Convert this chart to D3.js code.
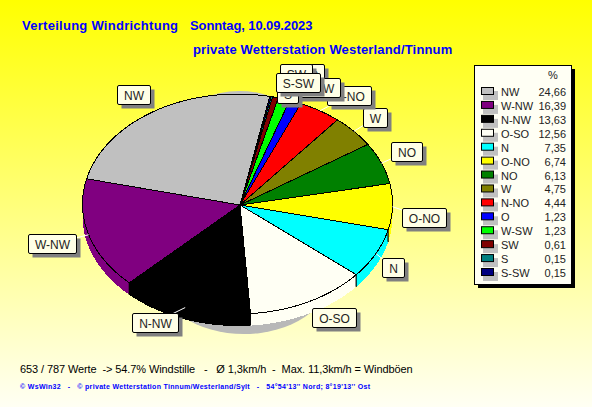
<!DOCTYPE html>
<html><head><meta charset="utf-8">
<script src="https://cdn.jsdelivr.net/npm/d3@7/dist/d3.min.js"></script>
<style>html,body{margin:0;padding:0;overflow:hidden}svg{display:block}text{white-space:pre;font-family:"Liberation Sans",Arial,sans-serif}</style>
</head><body><svg id="c" width="592" height="407"></svg>
<script>
const directions=["NW","W-NW","N-NW","O-SO","N","O-NO","NO","W","N-NO","O","W-SW","SW","S","S-SW"];
const percent=[24.66,16.39,13.63,12.56,7.35,6.74,6.13,4.75,4.44,1.23,1.23,0.61,0.15,0.15];
const percentLabels=["24,66","16,39","13,63","12,56","7,35","6,74","6,13","4,75","4,44","1,23","1,23","0,61","0,15","0,15"];
const colors=["#c0c0c0","#800080","#000000","#fffff4","#00ffff","#ffff00","#008000","#808000","#ff0000","#0000ff","#00ff00","#800000","#008080","#000080"];
const labelDx=[-21,-37,-31,24.5,16.6,31.5,25,21,29,17,31.5,20,15,27.5];
const labelDy=[-17,9,15,16,14,11,-11.5,-13.5,-15.5,-28,-12,-24,-3.5,-14];
const noLeader=["NW","O","W-SW","SW","S","S-SW"];
const titleA1="Verteilung Windrichtung";
const titleA2="Sonntag, 10.09.2023";
const titleB="private Wetterstation Westerland/Tinnum";
const footA="653 / 787 Werte  -> 54.7% Windstille   -   Ø 1,3km/h  -  Max. 11,3km/h = Windböen";
const footB="© WsWin32   -   © private Wetterstation Tinnum/Westerland/Sylt   -   54°54'13'' Nord; 8°19'13'' Ost";

const W=592,H=407,cx=237.5,cy=204,rx=155,ry=110,depth=12,apexX=240,apexY=205;
const svg=d3.select("#c");
const defs=svg.append("defs");
const g=defs.append("linearGradient").attr("id","bg").attr("x1",0).attr("y1",0).attr("x2",0).attr("y2",1);
g.append("stop").attr("offset",0).attr("stop-color","#ffff00");
g.append("stop").attr("offset",1).attr("stop-color","#fffff4");
svg.append("rect").attr("width",W).attr("height",H).attr("fill","url(#bg)");

const blue="#0000ff";
const title=svg.append("text").attr("y",30).attr("fill",blue).attr("font-size",13).attr("font-weight","bold");
title.append("tspan").attr("x",22).attr("letter-spacing",0.27).text(titleA1);
title.append("tspan").attr("x",190).attr("letter-spacing",-0.1).text(titleA2);
svg.append("text").attr("x",193).attr("y",54).attr("fill",blue).attr("font-size",13).attr("font-weight","bold").attr("letter-spacing",0.17).text(titleB);
svg.append("text").attr("x",20).attr("y",373).attr("fill","#000").attr("font-size",11).attr("letter-spacing",-0.1).text(footA);
svg.append("text").attr("x",20).attr("y",389).attr("fill",blue).attr("font-size",7).attr("font-weight","bold").attr("letter-spacing",0.32).text(footB);

// pie geometry
const rad=d=>d*Math.PI/180;
const pie=d3.pie().sort(null).startAngle(rad(12)).endAngle(rad(12-360));
const arcs=pie(percent);
const px=a=>cx+rx*Math.sin(a), py=a=>cy-ry*Math.cos(a);
const line=d3.line();
const samples=(a,b)=>d3.range(0,41).map(k=>a+(b-a)*k/40);

// shadow
svg.append("ellipse").attr("cx",244).attr("cy",276).attr("rx",86).attr("ry",58).attr("fill","#b8b8b8");
// top light-gray bump
svg.append("ellipse").attr("cx",cx+2).attr("cy",cy).attr("rx",rx-50).attr("ry",ry+3).attr("fill","#c0c0c0");

// walls
arcs.forEach((d,i)=>{
  const a=Math.min(d.startAngle,d.endAngle),b=Math.max(d.startAngle,d.endAngle);
  const lo=Math.max(a,rad(-270)),hi=Math.min(b,rad(-90));
  if(hi<=lo)return;
  const ts=samples(lo,hi);
  const top=ts.map(t=>[px(t),py(t)]);
  const bot=ts.slice().reverse().map(t=>[px(t),py(t)+depth]);
  svg.append("path").attr("d",line(top.concat(bot))+"Z").attr("fill",colors[i]).style("shape-rendering","crispEdges");
  [lo,hi].forEach(t=>{
    if(t>rad(-269)&&t<rad(-91))svg.append("line").attr("x1",px(t)).attr("x2",px(t)).attr("y1",py(t)).attr("y2",py(t)+depth).attr("stroke","#000");
  });
});

// top faces
svg.append("g").selectAll("path").data(arcs).join("path")
  .attr("d",d=>line([[apexX,apexY]].concat(samples(d.startAngle,d.endAngle).map(t=>[px(t),py(t)])))+"Z")
  .attr("fill",(d,i)=>colors[i]).attr("stroke","#000").attr("stroke-width",1)
  .style("shape-rendering","crispEdges");

// labels
const probe=svg.append("text").attr("font-size",12).attr("opacity",0);
const lab=arcs.map((d,i)=>{
  const m=(d.startAngle+d.endAngle)/2, ax=px(m), ay=py(m);
  probe.text(directions[i]);
  const tw=probe.node().getComputedTextLength();
  return {name:directions[i],ax,ay,x:ax+labelDx[i]+.5,y:ay+labelDy[i],w:Math.round(tw)+13,h:19};
});
probe.remove();
lab.filter(l=>!noLeader.includes(l.name)).forEach(l=>{
  svg.append("line").attr("x1",l.ax).attr("y1",l.ay).attr("x2",l.x).attr("y2",l.y).attr("stroke","#fff");
});
lab.forEach(l=>{
  const x0=Math.round(l.x-l.w/2)+.5,y0=Math.round(l.y-l.h/2)+.5;
  svg.append("rect").attr("x",x0+4).attr("y",y0+4).attr("width",l.w).attr("height",l.h).attr("fill","#808080");
  svg.append("rect").attr("x",x0).attr("y",y0).attr("width",l.w).attr("height",l.h).attr("rx",1.5).attr("fill","#ffffe6").attr("stroke","#000");
  svg.append("text").attr("x",x0+l.w/2).attr("y",y0+14).attr("text-anchor","middle").attr("font-size",12).attr("fill","#222").text(l.name);
});

// legend
const rowY=d3.scalePoint().domain(directions).range([92,273]);
svg.append("rect").attr("x",478).attr("y",69).attr("width",97).attr("height",219).attr("fill","#000");
svg.append("rect").attr("x",474.5).attr("y",65.5).attr("width",97).attr("height",219).attr("fill","#fffff4").attr("stroke","#000");
svg.append("text").attr("x",553).attr("y",79).attr("text-anchor","middle").attr("font-size",11).attr("fill","#222").text("%");
directions.forEach((n,i)=>{
  const y=rowY(n);
  svg.append("rect").attr("x",483).attr("y",y-1).attr("width",15).attr("height",9).attr("fill","#c0c0c0");
  svg.append("rect").attr("x",481.5).attr("y",y-4.5).attr("width",12).attr("height",7).attr("fill",colors[i]).attr("stroke","#000");
  svg.append("text").attr("x",501).attr("y",y+4).attr("font-size",11).attr("fill","#222").text(n);
  svg.append("text").attr("x",566).attr("y",y+4).attr("text-anchor","end").attr("font-size",11).attr("fill","#222").text(percentLabels[i]);
});
</script></body></html>
